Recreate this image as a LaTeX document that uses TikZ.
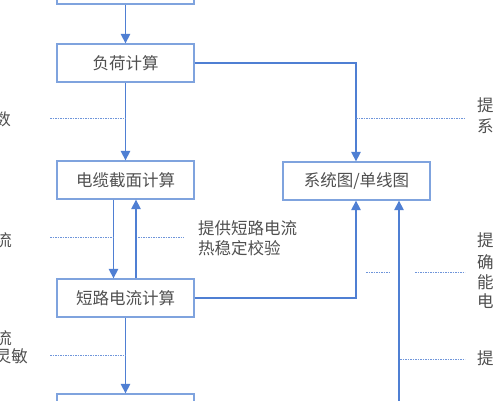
\documentclass[tikz,border=0pt]{standalone}
\usepackage{fontspec}
\setmainfont{Noto Sans CJK SC}
\usetikzlibrary{arrows.meta}
\definecolor{lineblue}{HTML}{4F7FD3}
\definecolor{boxblue}{HTML}{7FA3DE}
\definecolor{dotblue}{HTML}{6E95DA}
\definecolor{txt}{HTML}{505050}
\begin{document}
\begin{tikzpicture}[x=1pt,y=-1pt,
  procbox/.style={draw=boxblue,line width=1.3pt,minimum width=137pt,minimum height=38pt,inner sep=0pt,text=txt,font=\fontsize{16.5}{20}\selectfont},
  flow/.style={draw=lineblue,line width=1.3pt,-{Triangle[width=9.5pt,length=9.5pt]}},
  plain/.style={draw=lineblue,line width=1.3pt},
  hint/.style={draw=dotblue,line width=0.7pt,dash pattern=on 1.6pt off 0.9pt},
  note/.style={text=txt,font=\fontsize{16.5}{20.5}\selectfont,inner sep=0pt,align=left}]
\useasboundingbox (0,0) rectangle (495,400);
\fill[white] (0,0) rectangle (495,400);
% boxes
\node[procbox] (b0) at (125.5,-15) {};
\node[procbox] (b1) at (125.5,63) {负荷计算};
\node[procbox] (b2) at (125.5,180) {电缆截面计算};
\node[procbox] (b3) at (125.5,298) {短路电流计算};
\node[procbox] (b4) at (125.5,413) {};
\node[procbox,minimum width=147pt] (sys) at (356.5,181) {系统图/单线图};
\coordinate (src) at (399,402);
% connectors
\draw[flow] (b0) -- (b1);
\draw[flow] (b1) -- (b2);
\draw[flow] ([xshift=-12pt]b2.south) -- ([xshift=-12pt]b3.north);
\draw[flow] ([xshift=10.5pt]b3.north) -- ([xshift=10.5pt]b2.south);
\draw[flow] (b3) -- (b4);
\draw[flow] (b1.east) -| ([xshift=-0.5pt]sys.north);
\draw[flow] (b3.east) -| ([xshift=-0.5pt]sys.south);
\draw[flow] (src) -- (src |- sys.south);
% dotted hints
\draw[hint] (50,118) -- (126,118);
\draw[hint] (356,118) -- (465,118);
\draw[hint] (50,237) -- (114,237);
\draw[hint] (138,237) -- (184,237);
\draw[hint] (366,272) -- (389,272);
\draw[hint] (415,272) -- (465,272);
\draw[hint] (50,355) -- (126,355);
\draw[hint] (400,359) -- (465,359);
% texts
\node[note,anchor=west] (t1) at (198,238) {提供短路电流\\热稳定校验};
\node[note,anchor=east] (l1) at (11,119) {数};
\node[note,anchor=east] (l2) at (12,240) {流};
\node[note,anchor=east] (l3) at (12,338) {流};
\node[note,anchor=east] (l4) at (28,356) {灵敏};
\node[note,anchor=west] (r1) at (477,105) {提};
\node[note,anchor=west] (r2) at (477,126) {系};
\node[note,anchor=west] (r3) at (477,240) {提};
\node[note,anchor=west] (r4) at (477,262) {确};
\node[note,anchor=west] (r5) at (477,282) {能};
\node[note,anchor=west] (r6) at (477,301) {电};
\node[note,anchor=west] (r7) at (477,358) {提};
\end{tikzpicture}
\end{document}
